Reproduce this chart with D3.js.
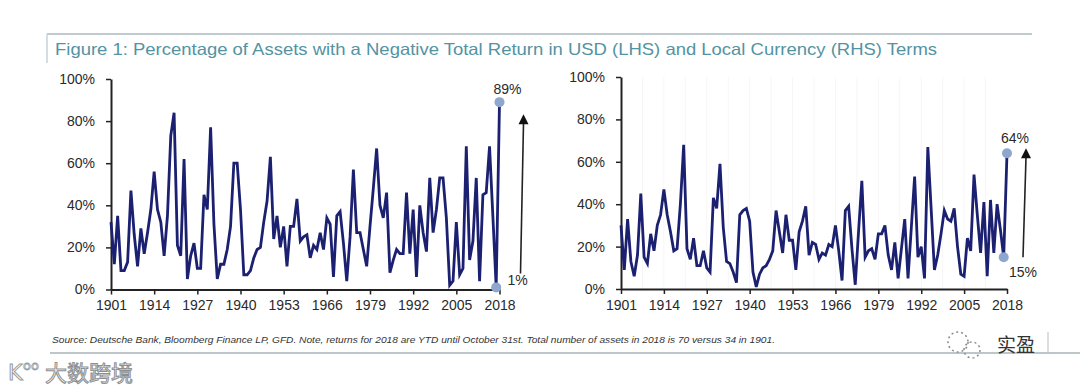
<!DOCTYPE html>
<html>
<head>
<meta charset="utf-8">
<script src="https://cdnjs.cloudflare.com/ajax/libs/d3/7.8.5/d3.min.js"></script>
<style>
  html, body { margin: 0; padding: 0; background: #fff; }
  svg { display: block; }
</style>
</head>
<body>
<div id="chart"></div>
<script>
// share of assets with a negative total return, % (1901..2018)
var firstYear = 1901;
var usdReturns = [
  32, 12, 35, 9, 9, 13, 47, 26, 11, 29,
  17, 27, 38, 56, 38, 32, 16, 35, 73, 84,
  21, 16, 62, 5, 16, 22, 10, 10, 45, 38,
  77, 31, 5, 12, 12, 19, 30, 60, 60, 38,
  7, 7, 9, 15, 19, 20, 32, 42, 63, 24,
  35, 20, 30, 11, 30, 30, 43, 23, 25, 26,
  15, 21, 19, 27, 19, 34, 31, 6, 35, 37,
  22, 4, 25, 57, 27, 27, 19, 11, 30, 48,
  67, 40, 34, 46, 8, 14, 19, 17, 17, 46,
  17, 38, 6, 40, 27, 18, 53, 27, 38, 53,
  53, 34, 2, 4, 32, 7, 10, 68, 14, 23,
  53, 4, 45, 46, 68, 35, 1, 89
];
var localReturns = [
  30, 9, 33, 13, 6, 16, 45, 15, 12, 26,
  18, 30, 35, 47, 35, 27, 18, 19, 40, 68,
  19, 14, 24, 11, 11, 18, 10, 8, 43, 38,
  59, 29, 13, 12, 8, 3, 35, 37, 38, 32,
  8, 1, 7, 10, 11, 14, 18, 37, 27, 17,
  35, 23, 23, 9, 27, 32, 39, 16, 22, 21,
  14, 17, 16, 21, 20, 30, 18, 4, 37, 39,
  19, 2, 27, 51, 15, 18, 19, 14, 26, 26,
  30, 16, 9, 22, 5, 19, 33, 5, 29, 53,
  15, 20, 5, 67, 38, 9, 16, 26, 37, 33,
  32, 38, 20, 7, 6, 24, 18, 54, 35, 17,
  41, 6, 42, 17, 40, 28, 15, 64
];
var yearTicks = [1901, 1914, 1927, 1940, 1953, 1966, 1979, 1992, 2005, 2018];
var pctTicks = [0, 20, 40, 60, 80, 100];

var titleText = "Figure 1: Percentage of Assets with a Negative Total Return in USD (LHS) and Local Currency (RHS) Terms";
var sourceText = "Source: Deutsche Bank, Bloomberg Finance LP, GFD. Note, returns for 2018 are YTD until October 31st. Total number of assets in 2018 is 70 versus 34 in 1901.";

var width = 1080, height = 390;
var svg = d3.select("#chart").append("svg")
    .attr("width", width)
    .attr("height", height);

// title frame
svg.append("line").attr("x1", 47).attr("x2", 1032).attr("y1", 34).attr("y2", 34)
    .attr("stroke", "#a9b8bc").attr("stroke-width", 1.5);
svg.append("line").attr("x1", 47).attr("x2", 47).attr("y1", 34).attr("y2", 63)
    .attr("stroke", "#c6d2d5").attr("stroke-width", 1.5);
svg.append("text")
    .attr("x", 55).attr("y", 55)
    .attr("font-family", "Liberation Sans, Arial, sans-serif")
    .attr("font-size", 16.5)
    .attr("fill", "#5393a2")
    .attr("textLength", 882)
    .attr("lengthAdjust", "spacingAndGlyphs")
    .text(titleText);

function toPoints(values) {
  return values.map(function(v, i) { return {year: firstYear + i, value: v}; });
}

var panels = [
  {data: toPoints(usdReturns), left: 111, right: 499.5, top: 79, bottom: 289.5,
   hiLabel: "89%", loLabel: "1%", grid: false},
  {data: toPoints(localReturns), left: 621, right: 1007, top: 77, bottom: 289,
   hiLabel: "64%", loLabel: "15%", grid: true}
];

panels.forEach(function(p, k) {
  var x = d3.scaleLinear().domain([firstYear, 2018]).range([p.left, p.right]);
  var y = d3.scaleLinear().domain([0, 100]).range([p.bottom, p.top]);
  var g = svg.append("g");

  if (p.grid) {
    // barely visible vertical guides
    g.selectAll(".grid")
        .data(d3.range(1907.5, 2018, 6.5))
      .enter().append("line")
        .attr("x1", function(d) { return x(d); })
        .attr("x2", function(d) { return x(d); })
        .attr("y1", p.top).attr("y2", p.bottom)
        .attr("stroke", "#f6f6f7").attr("stroke-width", 1);
  }

  var yAxis = g.append("g")
      .attr("transform", "translate(" + p.left + ",0)")
      .call(d3.axisLeft(y).tickValues(pctTicks)
        .tickFormat(function(d) { return d + "%"; })
        .tickSize(5).tickSizeOuter(0).tickPadding(11));

  var xAxis = g.append("g")
      .attr("transform", "translate(0," + p.bottom + ")")
      .call(d3.axisBottom(x).tickValues(yearTicks)
        .tickFormat(d3.format("d"))
        .tickSize(5).tickSizeOuter(0).tickPadding(6));

  [yAxis, xAxis].forEach(function(a) {
    a.select(".domain").attr("stroke", "#222").attr("stroke-width", 2);
    a.selectAll(".tick line").attr("stroke", "#222").attr("stroke-width", 1.5);
    a.selectAll("text")
        .attr("font-family", "Liberation Sans, Arial, sans-serif")
        .attr("font-size", 14)
        .attr("fill", "#2a2a2a");
  });

  var line = d3.line()
      .x(function(d) { return x(d.year); })
      .y(function(d) { return y(d.value); });

  g.append("path")
      .datum(p.data)
      .attr("fill", "none")
      .attr("stroke", "#1b2070")
      .attr("stroke-width", 2.8)
      .attr("stroke-linejoin", "miter")
      .attr("stroke-miterlimit", 4)
      .attr("d", line);

  var last = p.data[p.data.length - 1];
  var prev = p.data[p.data.length - 2];

  g.selectAll(".dot")
      .data([prev, last])
    .enter().append("circle")
      .attr("cx", function(d) { return x(d.year); })
      .attr("cy", function(d) { return y(d.value); })
      .attr("r", 5)
      .attr("fill", "#8da7cf");

  var lab = function(tx, ty, anchor, s) {
    g.append("text")
        .attr("x", tx).attr("y", ty)
        .attr("text-anchor", anchor)
        .attr("font-family", "Liberation Sans, Arial, sans-serif")
        .attr("font-size", 14)
        .attr("fill", "#2a2a2a")
        .text(s);
  };

  // arrow from the low point to the high point
  var ax = x(2018) + (k === 0 ? 21 : 16);
  var yLo = y(prev.value) - (k === 0 ? 14 : 0);
  var yHi = y(last.value) + (k === 0 ? 12 : -5);
  g.append("line")
      .attr("x1", ax).attr("y1", yLo)
      .attr("x2", ax + 3).attr("y2", yHi + 9)
      .attr("stroke", "#222").attr("stroke-width", 1.6);
  g.append("path")
      .attr("d", "M" + (ax + 3) + "," + yHi + " L" + (ax - 2) + "," + (yHi + 10) +
                 " L" + (ax + 8) + "," + (yHi + 10) + "Z")
      .attr("fill", "#111");

  if (k === 0) {
    lab(x(2018) + 8, y(last.value) - 8, "middle", p.hiLabel);
    lab(x(2018) + 8, y(prev.value) - 2, "start", p.loLabel);
  } else {
    lab(x(2018) + 8, y(last.value) - 10, "middle", p.hiLabel);
    lab(x(2018) + 2, y(prev.value) + 20, "start", p.loLabel);
  }
});

// source note and bottom rule
svg.append("text")
    .attr("x", 52).attr("y", 343)
    .attr("font-family", "Liberation Sans Narrow, Liberation Sans, Arial, sans-serif")
    .attr("font-style", "italic")
    .attr("font-size", 9)
    .attr("fill", "#333")
    .attr("textLength", 723)
    .attr("lengthAdjust", "spacingAndGlyphs")
    .text(sourceText);
svg.append("line").attr("x1", 50).attr("x2", 1080).attr("y1", 353).attr("y2", 353)
    .attr("stroke", "#a7b3b7").attr("stroke-width", 1.5);

// watermarks
var wm = svg.append("g");
wm.append("text")
    .attr("x", 8).attr("y", 380)
    .attr("font-family", "DejaVu Sans, sans-serif")
    .attr("font-size", 22)
    .attr("fill", "#fff").attr("stroke", "#9a9a9a").attr("stroke-width", 1)
    .text("K");
wm.append("text")
    .attr("x", 23).attr("y", 370)
    .attr("font-family", "DejaVu Sans, sans-serif")
    .attr("font-size", 13)
    .attr("fill", "#fff").attr("stroke", "#9a9a9a").attr("stroke-width", 0.8)
    .text("oo");
wm.append("text")
    .attr("x", 45).attr("y", 381)
    .attr("font-family", "Noto Sans CJK SC, sans-serif")
    .attr("font-size", 22)
    .attr("fill", "#fff").attr("stroke", "#8f8f8f").attr("stroke-width", 1)
    .text("大数跨境");

wm.append("circle").attr("cx", 958).attr("cy", 342).attr("r", 10)
    .attr("fill", "none").attr("stroke", "#8a8a8a").attr("stroke-width", 1.5)
    .attr("stroke-dasharray", "2,3");
wm.append("circle").attr("cx", 972).attr("cy", 350).attr("r", 8)
    .attr("fill", "none").attr("stroke", "#8a8a8a").attr("stroke-width", 1.5)
    .attr("stroke-dasharray", "2,3");
wm.append("text")
    .attr("x", 997).attr("y", 352)
    .attr("font-family", "Noto Sans CJK SC, sans-serif")
    .attr("font-size", 19)
    .attr("fill", "#333")
    .text("实盈");
wm.append("line").attr("x1", 1048).attr("x2", 1048).attr("y1", 332).attr("y2", 353)
    .attr("stroke", "#bbb").attr("stroke-width", 1);
</script>
</body>
</html>
